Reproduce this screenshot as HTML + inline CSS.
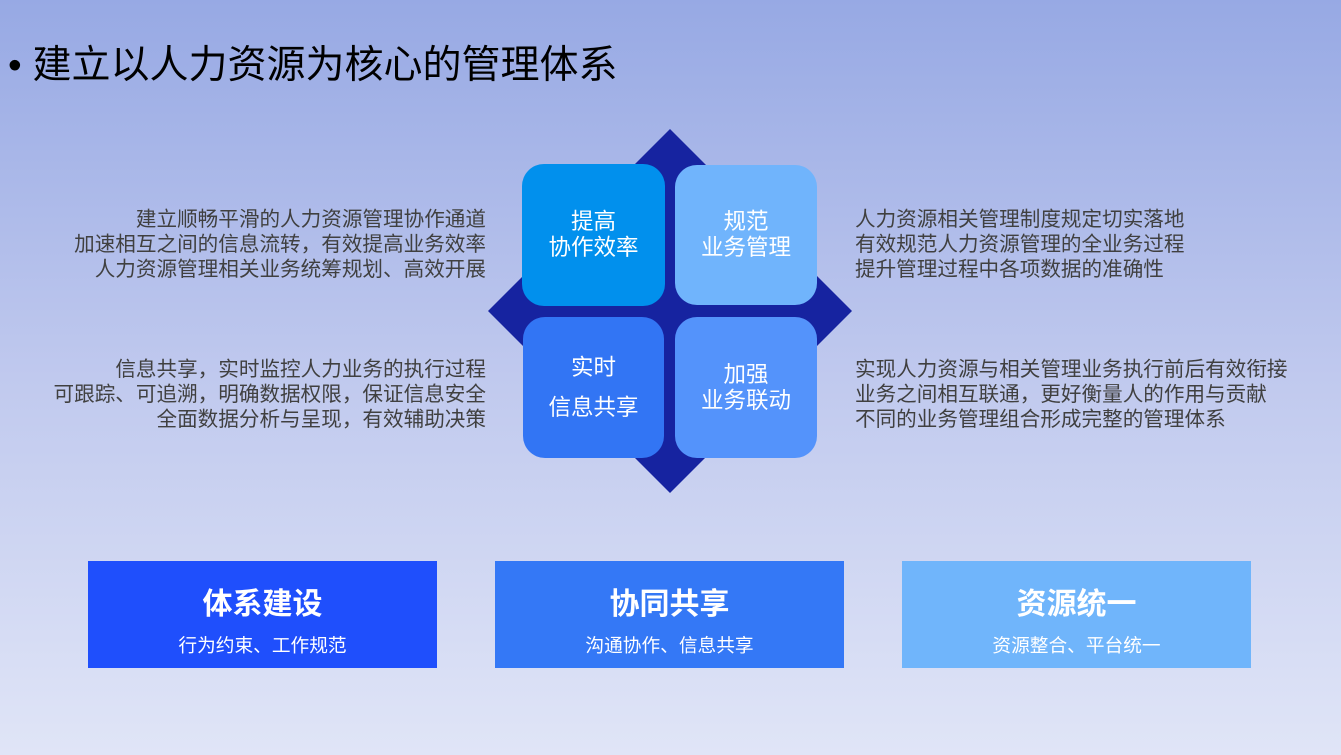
<!DOCTYPE html>
<html><head><meta charset="utf-8"><style>
*{margin:0;padding:0;box-sizing:border-box}
body{width:1341px;height:755px;overflow:hidden;position:relative;background:linear-gradient(180deg,#97a9e4 0%,#c0c9ee 50%,#e0e5f7 100%);font-family:"Liberation Sans","Noto Sans CJK SC",sans-serif}
.t{position:absolute;white-space:nowrap}
.title{left:8px;top:34px;font-size:39px;color:#000}
.p{font-size:20.6px;line-height:25px;color:#404040}
.r{text-align:right}
.box{position:absolute;border-radius:22px;color:#fff;font-size:22.5px;line-height:26px;display:flex;align-items:center;justify-content:center;text-align:center}
.b{position:absolute;top:561px;width:349px;height:107px;color:#fff;text-align:center}
.b h{display:block;font-size:30px;font-weight:bold;margin-top:27px;line-height:34px}
.b s{display:block;text-decoration:none;font-size:18.7px;margin-top:13px;line-height:22px}
</style></head><body>
<div class="t title">• 建立以人力资源为核心的管理体系</div>
<svg style="position:absolute;left:0;top:0" width="1341" height="755"><polygon points="670,129 852,311 670,493 488,311" fill="#1623a0"/></svg>
<div class="box" style="left:522px;top:164px;width:143px;height:142px;background:#0190ed">提高<br>协作效率</div>
<div class="box" style="left:675px;top:165px;width:142px;height:140px;background:#70b4fc">规范<br>业务管理</div>
<div class="box" style="left:523px;top:317px;width:141px;height:141px;background:#3275f4;line-height:40px">实时<br>信息共享</div>
<div class="box" style="left:675px;top:317px;width:142px;height:141px;background:#5493fb">加强<br>业务联动</div>
<div class="t p r" style="right:855px;top:207px">建立顺畅平滑的人力资源管理协作通道<br>加速相互之间的信息流转，有效提高业务效率<br>人力资源管理相关业务统筹规划、高效开展</div>
<div class="t p" style="left:855px;top:207px">人力资源相关管理制度规定切实落地<br>有效规范人力资源管理的全业务过程<br>提升管理过程中各项数据的准确性</div>
<div class="t p r" style="right:855px;top:357px">信息共享，实时监控人力业务的执行过程<br>可跟踪、可追溯，明确数据权限，保证信息安全<br>全面数据分析与呈现，有效辅助决策</div>
<div class="t p" style="left:855px;top:357px">实现人力资源与相关管理业务执行前后有效衔接<br>业务之间相互联通，更好衡量人的作用与贡献<br>不同的业务管理组合形成完整的管理体系</div>
<div class="b" style="left:88px;background:#1f4ffc"><h>体系建设</h><s>行为约束、工作规范</s></div>
<div class="b" style="left:495px;background:#3478f6"><h>协同共享</h><s>沟通协作、信息共享</s></div>
<div class="b" style="left:902px;background:#70b5fb"><h>资源统一</h><s>资源整合、平台统一</s></div>
</body></html>
